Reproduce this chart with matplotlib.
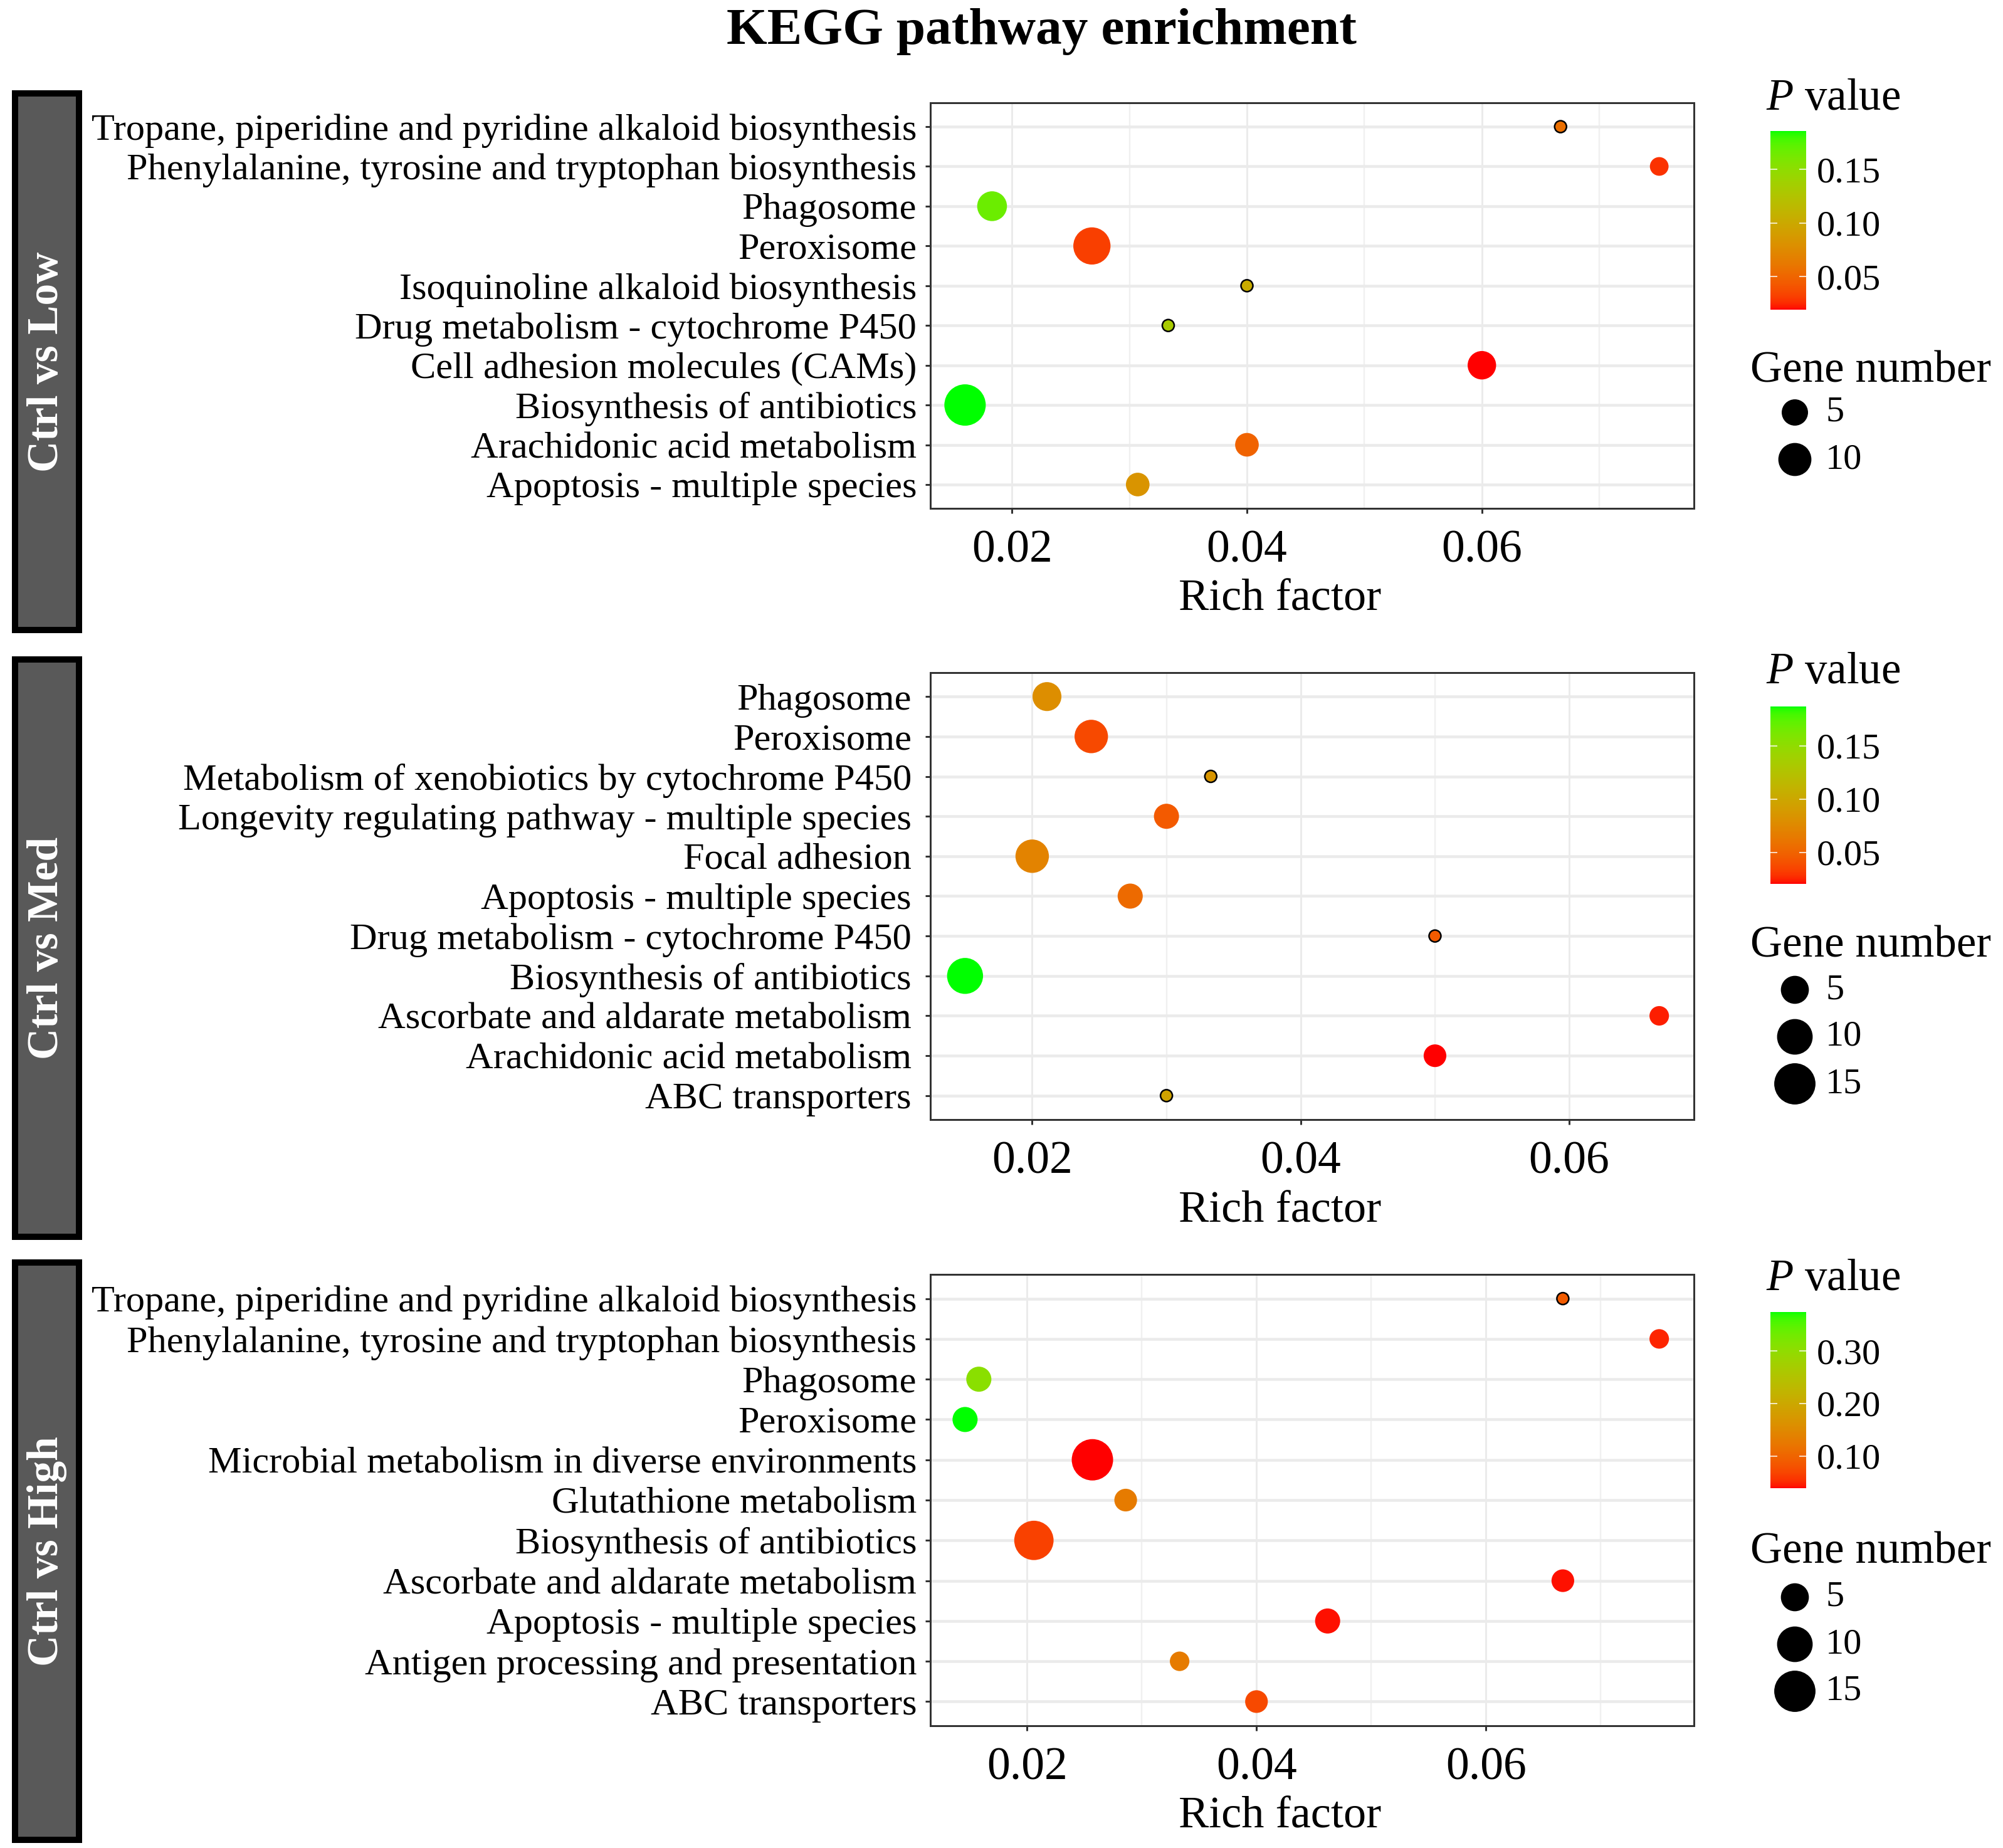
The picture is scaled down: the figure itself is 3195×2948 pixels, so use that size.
""" KEGG pathway enrichment bubble plot, three comparisons """
import numpy as np
import matplotlib
matplotlib.use('Agg')
import matplotlib.pyplot as plt
from matplotlib.colors import ListedColormap, Normalize
from matplotlib.cm import ScalarMappable

# ---- data (terms listed top to bottom as in the figure) ----
terms_low = ['Tropane, piperidine and pyridine alkaloid biosynthesis',
             'Phenylalanine, tyrosine and tryptophan biosynthesis',
             'Phagosome',
             'Peroxisome',
             'Isoquinoline alkaloid biosynthesis',
             'Drug metabolism - cytochrome P450',
             'Cell adhesion molecules (CAMs)',
             'Biosynthesis of antibiotics',
             'Arachidonic acid metabolism',
             'Apoptosis - multiple species']
rich_low = [0.0667, 0.0751, 0.0183, 0.0268, 0.0400, 0.0333, 0.0600, 0.0160, 0.0400, 0.0307]
genes_low = [1, 2, 8, 15, 1, 1, 7, 20, 4, 4]
p_low = [0.056, 0.027, 0.167, 0.032, 0.103, 0.133, 0.019, 0.186, 0.049, 0.083]

terms_med = ['Phagosome',
             'Peroxisome',
             'Metabolism of xenobiotics by cytochrome P450',
             'Longevity regulating pathway - multiple species',
             'Focal adhesion',
             'Apoptosis - multiple species',
             'Drug metabolism - cytochrome P450',
             'Biosynthesis of antibiotics',
             'Ascorbate and aldarate metabolism',
             'Arachidonic acid metabolism',
             'ABC transporters']
rich_med = [0.0211, 0.0244, 0.0333, 0.0300, 0.0200, 0.0273, 0.0500, 0.0150, 0.0667, 0.0500, 0.0300]
genes_med = [6, 9, 1, 4, 9, 4, 1, 11, 2, 3, 1]
p_med = [0.079, 0.037, 0.085, 0.045, 0.071, 0.054, 0.045, 0.187, 0.024, 0.0204, 0.096]

terms_high = ['Tropane, piperidine and pyridine alkaloid biosynthesis',
              'Phenylalanine, tyrosine and tryptophan biosynthesis',
              'Phagosome',
              'Peroxisome',
              'Microbial metabolism in diverse environments',
              'Glutathione metabolism',
              'Biosynthesis of antibiotics',
              'Ascorbate and aldarate metabolism',
              'Apoptosis - multiple species',
              'Antigen processing and presentation',
              'ABC transporters']
rich_high = [0.0667, 0.0751, 0.0158, 0.0146, 0.0257, 0.0286, 0.0206, 0.0667, 0.0462, 0.0333, 0.0400]
genes_high = [1, 2, 4, 4, 16, 3, 14, 3, 4, 2, 3]
p_high = [0.089, 0.049, 0.307, 0.374, 0.039, 0.130, 0.066, 0.042, 0.042, 0.130, 0.073]

strip_labels = ['Ctrl vs Low', 'Ctrl vs Med', 'Ctrl vs High']
x_ticks = [0.02, 0.04, 0.06]
x_minor = [0.01, 0.03, 0.05, 0.07]
p_ticks = [[0.05, 0.10, 0.15], [0.05, 0.10, 0.15], [0.10, 0.20, 0.30]]
size_breaks = [[5, 10], [5, 10, 15], [5, 10, 15]]
size_limits = [(1, 20), (1, 16), (1, 16)]

# ---- layout in pixels of the 3195 x 2948 output ----
W, H = 3195, 2948
PT = 72 / 100  # points per pixel at dpi=100
ax_left, ax_right = 1484, 2702
panel_top = [164, 1073, 2033]
panel_bottom = [811, 1786, 2753]
ylabel_pad = [10, 16, 10]
strip_top = [149, 1052, 2014]
strip_bottom = [1005, 1973, 2935]
cbar_top = [209, 1127, 2093]
cbar_bottom = [494, 1410, 2374]
ptitle_base = [175, 1090, 2058]
gtitle_base = [610, 1527, 2493]
key_first = [658, 1579, 2548]
key_row = 75

plt.rcParams['font.family'] = 'Liberation Serif'
plt.rcParams['mathtext.fontset'] = 'custom'
plt.rcParams['mathtext.rm'] = 'Liberation Serif'
plt.rcParams['mathtext.it'] = 'Liberation Serif:italic'

_M = np.array([[0.4124564, 0.3575761, 0.1804375],
               [0.2126729, 0.7151522, 0.0721750],
               [0.0193339, 0.1191920, 0.9503041]])
_WHITE = np.array([0.95047, 1.0, 1.08883])


def to_lab(rgb):
    rgb = np.asarray(rgb, float)
    lin = np.where(rgb <= 0.04045, rgb / 12.92, ((rgb + 0.055) / 1.055) ** 2.4)
    t = (_M @ lin) / _WHITE
    f = np.where(t > (6 / 29) ** 3, np.cbrt(t), t / (3 * (6 / 29) ** 2) + 4 / 29)
    return np.array([116 * f[1] - 16, 500 * (f[0] - f[1]), 200 * (f[1] - f[2])])


def from_lab(lab):
    fy = (lab[0] + 16) / 116
    f = np.array([fy + lab[1] / 500, fy, fy - lab[2] / 200])
    t = np.where(f > 6 / 29, f ** 3, 3 * (6 / 29) ** 2 * (f - 4 / 29))
    lin = np.clip(np.linalg.solve(_M, t * _WHITE), 0, 1)
    rgb = np.where(lin <= 0.0031308, 12.92 * lin, 1.055 * lin ** (1 / 2.4) - 0.055)
    return np.clip(rgb, 0, 1)


# red -> green like ggplot's scale_colour_gradient (Lab interpolation)
lab_lo, lab_hi = to_lab([1, 0, 0]), to_lab([0, 1, 0])
cmap = ListedColormap([from_lab(lab_lo + (lab_hi - lab_lo) * t)
                       for t in np.linspace(0, 1, 256)])


def dot_px(n, lo, hi):
    """ bubble diameter in pixels, area-like scaling """
    n = np.asarray(n, float)
    return 19 + 47 * np.sqrt((n - lo) / (hi - lo))


def px_rect(left, top, right, bottom):
    return [left / W, 1 - bottom / H, (right - left) / W, (bottom - top) / H]


fig = plt.figure(figsize=(W / 100, H / 100), dpi=100)
fig.text(1661 / W, 1 - 70 / H, 'KEGG pathway enrichment', ha='center', va='baseline',
         fontsize=60, fontweight='bold')

panels = [(terms_low, rich_low, genes_low, p_low),
          (terms_med, rich_med, genes_med, p_med),
          (terms_high, rich_high, genes_high, p_high)]

for i, (terms, rich, genes, pv) in enumerate(panels):
    n = len(terms)
    y = np.arange(n)[::-1]
    lo, hi = size_limits[i]
    norm = Normalize(min(pv), max(pv))

    ax = fig.add_axes(px_rect(ax_left, panel_top[i], ax_right, panel_bottom[i]))
    ax.set_axisbelow(True)
    sizes = (dot_px(genes, lo, hi) * PT) ** 2
    edges = ['black' if g == lo else 'none' for g in genes]
    ax.scatter(rich, y, s=sizes, c=cmap(norm(pv)), edgecolors=edges,
               linewidths=2.5 * PT, zorder=3)

    ax.set_xticks(x_ticks)
    ax.set_xticks(x_minor, minor=True)
    ax.set_xticklabels(['%.2f' % t for t in x_ticks])
    ax.set_yticks(y)
    ax.set_yticklabels(terms)
    # limits after the ticks, so the minor ticks do not widen them
    span = max(rich) - min(rich)
    ax.set_xlim(min(rich) - 0.05 * span, max(rich) + 0.05 * span)
    ax.set_ylim(-0.6, n - 0.4)
    ax.grid(axis='y', color='#EBEBEB', linewidth=4.5 * PT)
    ax.grid(axis='x', which='major', color='#EBEBEB', linewidth=3 * PT)
    ax.grid(axis='x', which='minor', color='#F0F0F0', linewidth=2.5 * PT)
    ax.tick_params(axis='x', which='minor', length=0)
    ax.tick_params(axis='y', labelsize=43.5, length=8 * PT, width=3 * PT,
                   color='#333333', pad=ylabel_pad[i])
    ax.tick_params(axis='x', which='major', labelsize=53, length=8 * PT,
                   width=3 * PT, color='#333333', pad=19)
    for sp in ax.spines.values():
        sp.set_color('#333333')
        sp.set_linewidth(3 * PT)
    ax.set_xlabel('Rich factor', fontsize=52, labelpad=8)
    ax.xaxis.label.set_x(0.458)

    # strip on the left
    sax = fig.add_axes(px_rect(24, strip_top[i], 126, strip_bottom[i]))
    sax.set_facecolor('#595959')
    sax.set_xticks([])
    sax.set_yticks([])
    for sp in sax.spines.values():
        sp.set_color('black')
        sp.set_linewidth(10 * PT)
    sax.text(0.5, 0.5, strip_labels[i], transform=sax.transAxes, rotation=90,
             ha='center', va='center', color='white', fontsize=50,
             fontweight='bold')

    # colour bar
    cax = fig.add_axes(px_rect(2824, cbar_top[i], 2881, cbar_bottom[i]))
    cb = fig.colorbar(ScalarMappable(norm=norm, cmap=cmap), cax=cax)
    cb.outline.set_visible(False)
    cb.set_ticks(p_ticks[i])
    cb.set_ticklabels(['%.2f' % t for t in p_ticks[i]])
    cax.tick_params(direction='in', color='white', length=11 * PT,
                    width=1.5 * PT, left=True, right=True, labelsize=42, pad=12)
    fig.text(2817 / W, 1 - ptitle_base[i] / H, '$P$ value', ha='left',
             va='baseline', fontsize=51)

    # size key
    fig.text(2792 / W, 1 - gtitle_base[i] / H, 'Gene number', ha='left',
             va='baseline', fontsize=51)
    breaks = size_breaks[i]
    k = len(breaks)
    top = key_first[i] - key_row / 2
    kax = fig.add_axes(px_rect(2800, top, 3000, top + k * key_row))
    kax.set_xlim(0, 200)
    kax.set_ylim(k - 0.5, -0.5)
    kax.axis('off')
    kax.scatter(np.full(k, 63), np.arange(k), s=(dot_px(breaks, lo, hi) * PT) ** 2,
                color='black', clip_on=False)
    for j, b in enumerate(breaks):
        kax.text(112, j, str(b), ha='left', va='center', fontsize=42)

fig.savefig('out.png', dpi=100)
